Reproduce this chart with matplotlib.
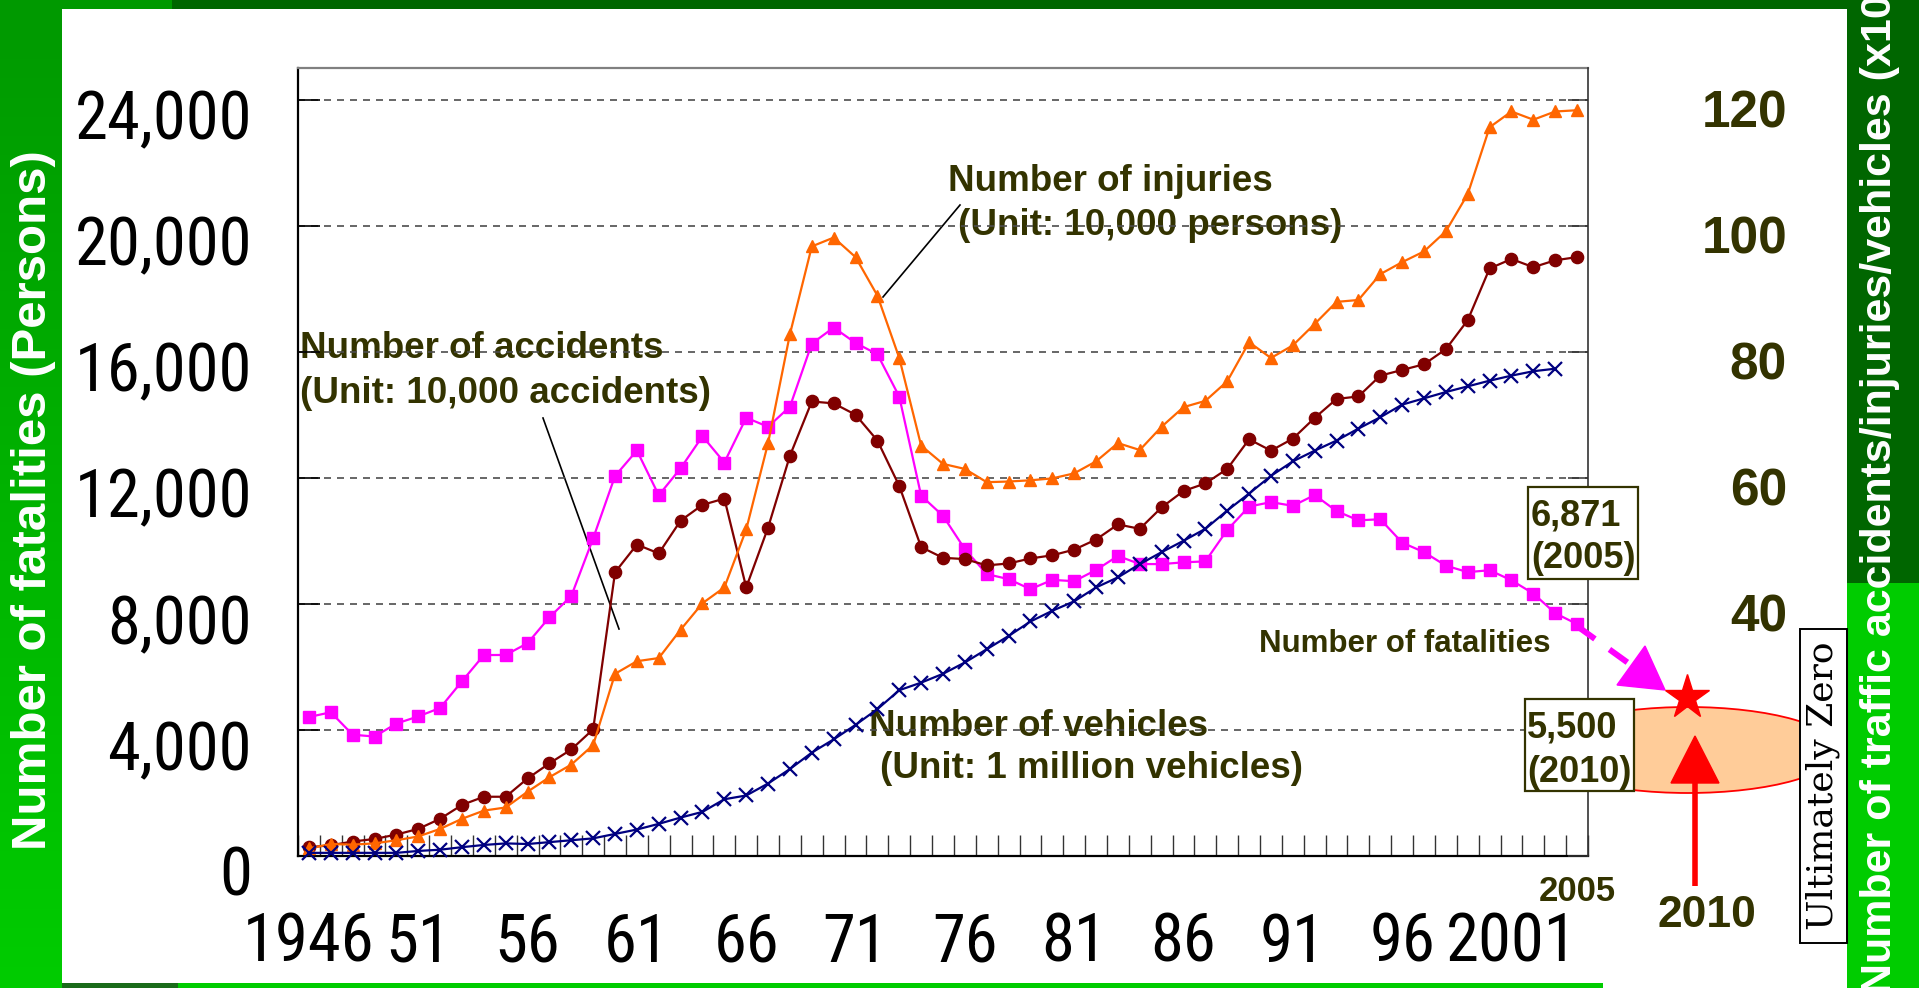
import numpy as np
import matplotlib
matplotlib.use("Agg")
import matplotlib.pyplot as plt
from matplotlib.patches import Rectangle, Ellipse, Polygon
from matplotlib.transforms import ScaledTranslation
from matplotlib import font_manager
from matplotlib.font_manager import FontProperties

# ---------------- data ----------------
years = list(range(1946, 2005))

fatalities = [4409, 4560, 3848, 3790, 4202, 4429, 4696, 5544, 6374, 6379,
              6751, 7575, 8248, 10079, 12055, 12865, 11445, 12301, 13318, 12484,
              13904, 13618, 14256, 16257, 16765, 16278, 15918, 14574, 11432, 10792,
              9734, 8945, 8783, 8466, 8760, 8719, 9073, 9520, 9262, 9261,
              9317, 9347, 10344, 11086, 11227, 11109, 11452, 10942, 10649, 10684,
              9942, 9640, 9211, 9006, 9066, 8747, 8326, 7702, 7358]

accidents = [1.4, 1.7, 2.3, 2.7, 3.4, 4.3, 5.9, 8.1, 9.4, 9.4,
             12.3, 14.7, 16.9, 20.1, 45.0, 49.4, 48.0, 53.2, 55.7, 56.7,
             42.6, 52.1, 63.5, 72.1, 71.8, 70.0, 65.9, 58.7, 49.0, 47.3,
             47.1, 46.1, 46.4, 47.2, 47.7, 48.6, 50.2, 52.6, 51.9, 55.3,
             57.9, 59.1, 61.4, 66.1, 64.3, 66.2, 69.5, 72.5, 72.9, 76.2,
             77.1, 78.0, 80.4, 85.0, 93.2, 94.7, 93.4, 94.5, 95.0]

injuries = [1.2, 1.9, 1.8, 2.0, 2.5, 3.1, 4.3, 5.9, 7.2, 7.7,
            10.2, 12.5, 14.5, 17.6, 28.9, 30.9, 31.4, 35.9, 40.1, 42.6,
            51.8, 65.5, 82.8, 96.7, 98.1, 95.0, 88.9, 79.0, 65.1, 62.2,
            61.4, 59.3, 59.4, 59.6, 59.9, 60.7, 62.6, 65.5, 64.4, 68.1,
            71.2, 72.2, 75.3, 81.5, 79.0, 81.0, 84.4, 87.9, 88.2, 92.3,
            94.2, 95.9, 99.1, 105.0, 115.6, 118.1, 116.8, 118.1, 118.3]

vehicles = [0.5, 0.5, 0.5, 0.5, 0.5, 0.8, 1.0, 1.4, 1.75, 2.0,
            1.9, 2.2, 2.5, 2.8, 3.5, 4.2, 5.1, 6.1, 7.0, 9.0,
            9.6, 11.5, 13.8, 16.4, 18.5, 20.8, 23.3, 26.3, 27.5, 28.9,
            30.7, 32.8, 34.9, 37.2, 38.9, 40.4, 42.6, 44.2, 46.3, 48.2,
            50.0, 51.9, 54.8, 57.5, 60.3, 62.6, 64.3, 65.9, 67.8, 69.6,
            71.6, 72.6, 73.6, 74.5, 75.4, 76.2, 76.9, 77.3, np.nan]

left_ticks = [0, 4000, 8000, 12000, 16000, 20000, 24000]
left_labels = ["0", "4,000", "8,000", "12,000", "16,000", "20,000", "24,000"]
right_ticks = [20, 40, 60, 80, 100, 120]
right_labels = ["20", "40", "60", "80", "100", "120"]
x_label_years = [1946, 1951, 1956, 1961, 1966, 1971, 1976, 1981, 1986, 1991, 1996, 2001]
x_labels = ["1946", "51", "56", "61", "66", "71", "76", "81", "86", "91", "96", "2001"]

# ---------------- fonts ----------------
SANS = "Liberation Sans"
OLIVE = "#333300"


def _is_regular(f):
    return f.style == "normal" and f.weight in (400, "normal", "regular", "book")


def find_condensed():
    prefs = ["Liberation Sans Narrow", "Arial Narrow", "Roboto Condensed", "Open Sans Condensed",
             "Noto Sans Condensed", "DejaVu Sans Condensed", "Nimbus Sans Narrow"]
    lst = font_manager.fontManager.ttflist
    for p in prefs:
        regs = [f for f in lst if f.name == p and _is_regular(f)]
        if regs:
            return FontProperties(fname=regs[0].fname)
    for f in lst:
        low = (f.name + " " + f.fname).lower()
        if not _is_regular(f):
            continue
        if "mono" in low or "serif" in low or "cjk" in low:
            continue
        squashed = low.replace("-", "").replace(" ", "")
        if "semicondensed" in squashed or "extracondensed" in squashed:
            continue
        if ("condensed" in low or "narrow" in low or f.stretch in ("condensed",)):
            return FontProperties(fname=f.fname)
    return None


_cond = find_condensed()
if _cond is not None:
    TICKFP = _cond.copy()
    TICKFP.set_size(48)
else:
    TICKFP = FontProperties(family=SANS, size=40)

W, H = 1919, 988
fig = plt.figure(figsize=(W / 100, H / 100), dpi=100)
fig.patch.set_facecolor("white")


def off(dx, dy):
    return ScaledTranslation(dx / 100, -dy / 100, fig.dpi_scale_trans)


# ---------------- background frame ----------------
bg = fig.add_axes([0, 0, 1, 1], zorder=-5)
grad = np.linspace(0, 1, 256)[:, None]
top_c = np.array([0.0, 0.60, 0.0])
bot_c = np.array([0.0, 0.80, 0.0])
img = (top_c[None, None, :] * (1 - grad[:, :, None]) + bot_c[None, None, :] * grad[:, :, None])
bg.imshow(img, extent=(0, 62, H, 0), aspect="auto", interpolation="bilinear")
bg.add_patch(Rectangle((0, 0), 172, 9, color="#009900", lw=0))
bg.add_patch(Rectangle((172, 0), W - 172, 9, color="#006600", lw=0))
bg.add_patch(Rectangle((1847, 0), 72, 583, color="#006600", lw=0))
bg.add_patch(Rectangle((1847, 583), 72, H - 583, color="#00cc00", lw=0))
bg.add_patch(Rectangle((62, 983), 116, 5, color="#1a6b1a", lw=0))
bg.add_patch(Rectangle((178, 983), 1425, 5, color="#00cc00", lw=0))
bg.set_xlim(0, W)
bg.set_ylim(H, 0)
bg.axis("off")

# annotation texts under the gridlines
ann = dict(fontsize=26.5, fontweight="bold", color=OLIVE, family=SANS, va="baseline", ha="left")
bg.text(300, 358, "Number of accidents", **ann)
bg.text(300, 403, "(Unit: 10,000 accidents)", **ann)
bg.plot([543, 619], [418, 629], color="black", lw=1.2)
bg.text(948, 191, "Number of injuries", **ann)
bg.text(958, 235, "(Unit: 10,000 persons)", **ann)
bg.plot([960, 883], [205, 297], color="black", lw=1.2)
bg.text(869, 736, "Number of vehicles", **ann)
bg.text(880, 778, "(Unit: 1 million vehicles)", **ann)
bg.text(1259, 652, "Number of fatalities", fontsize=22.5, fontweight="bold", color=OLIVE,
        family=SANS, va="baseline", ha="left")

# ---------------- main axes ----------------
ax = fig.add_axes([298 / W, 1 - 856 / H, 1290 / W, 788 / H])
ax.patch.set_visible(False)
ax2 = ax.twinx()

ax.plot(years, fatalities, color="#ff00ff", marker="s", ms=8.5, lw=1.6, mec="#ff00ff", clip_on=False, zorder=3)
ax2.plot(years, accidents, color="#800000", marker="o", ms=8.8, lw=1.6, mec="#800000", clip_on=False)
ax2.plot(years, injuries, color="#ff6600", marker="^", ms=9.2, lw=1.6, mec="#ff6600", clip_on=False)
ax2.plot(years, vehicles, color="#000080", marker="x", ms=10, mew=1.6, lw=1.6, clip_on=False)

ax.set_xlim(1945.5, 2004.5)
ax.set_ylim(0, 25000)
ax2.set_ylim(0, 125)

ax.set_yticks(left_ticks)
ax.tick_params(axis="y", direction="in", length=15.8, width=1.2, labelleft=False, color="black")
ax2.set_yticks([0] + right_ticks)
ax2.tick_params(axis="y", direction="in", length=14.4, width=1.1, labelright=False, color="#333333")
ax.set_xticks([])
ax.set_xticks(np.arange(1945.5, 2005, 1.0), minor=True)
ax.tick_params(axis="x", which="minor", direction="in", length=15, width=1.0, color="#333333")
ax.tick_params(axis="x", which="major", length=0, labelbottom=False)

ax.grid(axis="y", which="major", color="#4d4d4d", lw=1.2, linestyle=(0, (4.2, 3.6)))

ax.spines["left"].set(color="black", lw=1.6)
ax.spines["bottom"].set(color="black", lw=1.6)
ax.spines["top"].set(color="#808080", lw=1.6)
ax.spines["right"].set_visible(False)
for s in ("left", "top", "bottom"):
    ax2.spines[s].set_visible(False)
ax2.spines["right"].set(color="#333333", lw=1.2)

for v, s in zip(left_ticks, left_labels):
    ax.text(0, v, s, transform=ax.get_yaxis_transform() + off(-46, 40), ha="right",
            va="baseline", fontproperties=TICKFP, color="black")
for v, s in zip(right_ticks, right_labels):
    ax2.text(1, v, s, transform=ax2.get_yaxis_transform() + off(199, 28), ha="right",
             va="baseline", fontsize=37, fontweight="bold", family=SANS, color=OLIVE)
for yr, s in zip(x_label_years, x_labels):
    ax.text(yr, 0, s, transform=ax.get_xaxis_transform() + off(0, 106), ha="center",
            va="baseline", fontproperties=TICKFP, color="black")
ax.text(years[-1], 0, "2005", transform=ax.get_xaxis_transform() + off(0, 45), ha="center",
        va="baseline", fontsize=25, fontweight="bold", family=SANS, color=OLIVE)

# ---------------- overlay ----------------
ov = fig.add_axes([0, 0, 1, 1], zorder=10)
ov.set_xlim(0, W)
ov.set_ylim(H, 0)
ov.axis("off")
ov.patch.set_visible(False)

ov.text(34, 500, "Number of fatalities (Persons)", rotation=90, ha="center", va="center",
        fontsize=35.5, fontweight="bold", color="white", family=SANS)
ov.text(1880, 994, "Number of traffic accidents/injuries/vehicles (x10,000)", rotation=90,
        rotation_mode="anchor", ha="left", va="center", fontsize=31, fontweight="bold",
        color="white", family=SANS)

ov.add_patch(Ellipse((1688, 750), 300, 86, fc="#ffcc99", ec="red", lw=1.3, zorder=1))

# magenta dashed arrow
ov.plot([1577, 1631], [626, 665], color="#ff00ff", lw=4.3, dashes=(3.7, 3.0),
        dash_capstyle="butt", zorder=3)
ov.add_patch(Polygon([(1665, 690), (1617, 685), (1645, 646)], closed=True, color="#ff00ff", zorder=3))

# boxes
ov.add_patch(Rectangle((1528, 487), 110, 92, fc="white", ec=OLIVE, lw=1.6, zorder=2))
bx = dict(fontsize=26, fontweight="bold", color=OLIVE, family=SANS, va="baseline", ha="left", zorder=3)
ov.text(1531, 525, "6,871", **bx)
ov.text(1531, 568, "(2005)", **bx)
ov.add_patch(Rectangle((1525, 699), 109, 92, fc="white", ec=OLIVE, lw=1.6, zorder=2))
ov.text(1527, 737, "5,500", **bx)
ov.text(1527, 782, "(2010)", **bx)

# star and red arrow
ov.plot([1687], [697], marker="*", ms=33, color="red", mec="red", zorder=4)
ov.plot([1695, 1695], [886, 780], color="red", lw=4.0, solid_capstyle="butt", zorder=4)
ov.add_patch(Polygon([(1695, 736), (1671, 783), (1719, 783)], closed=True, color="red", zorder=4))
ov.text(1707, 927, "2010", fontsize=32, fontweight="bold", color=OLIVE, family=SANS,
        ha="center", va="baseline", zorder=4)

# Ultimately Zero box
ov.add_patch(Rectangle((1800, 629), 47, 314, fc="white", ec="black", lw=1.4, zorder=5))
ov.text(1823, 786, "Ultimately Zero", rotation=90, ha="center", va="center", fontsize=26,
        family="DejaVu Serif", color="black", zorder=6)

fig.savefig("out.png", dpi=100)
